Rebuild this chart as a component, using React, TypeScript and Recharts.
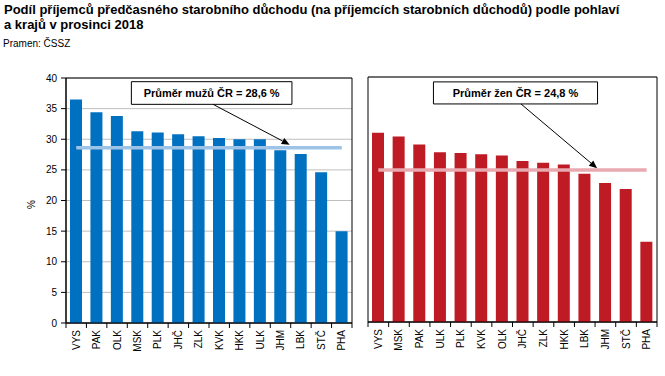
import React from 'react';
import {
  ComposedChart,
  Bar,
  Line,
  XAxis,
  YAxis,
  CartesianGrid,
  ReferenceArea,
  ReferenceLine,
} from 'recharts';

// ---- data ----
const menRegions = ['VYS', 'PAK', 'OLK', 'MSK', 'PLK', 'JHČ', 'ZLK', 'KVK', 'HKK', 'ULK', 'JHM', 'LBK', 'STČ', 'PHA'];
const menValues = [36.5, 34.4, 33.8, 31.3, 31.1, 30.8, 30.5, 30.2, 30.0, 30.0, 28.2, 27.6, 24.6, 15.0];
const menAverage = 28.6;

const womenRegions = ['VYS', 'MSK', 'PAK', 'ULK', 'PLK', 'KVK', 'OLK', 'JHČ', 'ZLK', 'HKK', 'LBK', 'JHM', 'STČ', 'PHA'];
const womenValues = [30.9, 30.3, 29.0, 27.7, 27.6, 27.4, 27.2, 26.3, 26.0, 25.7, 24.2, 22.7, 21.7, 13.1];
const womenAverage = 24.8;

const yTicks = [0, 5, 10, 15, 20, 25, 30, 35, 40];

// annotation boxes / arrows in data units (x = category index scale 0..14)
const menNoteBox = { x1: 3.2, x2: 11.06, y1: 35.7, y2: 39.4 };
const menNoteArrow = { x1: 7.2, y1: 35.7, x2: 10.95, y2: 29.1 };
const womenNoteBox = { x1: 3.17, x2: 11.12, y1: 35.6, y2: 39.2 };
const womenNoteArrow = { x1: 7.41, y1: 35.6, x2: 11.1, y2: 25.1 };

const menLabel = 'Průměr mužů ČR = 28,6 %';
const womenLabel = 'Průměr žen ČR = 24,8 %';

const title = 'Podíl příjemců předčasného starobního důchodu (na příjemcích starobních důchodů) podle pohlaví';
const title2 = 'a krajů v prosinci 2018';
const source = 'Pramen: ČSSZ';

const FONT = '"Liberation Sans", Arial, sans-serif';

const menData = menRegions.map((r, i) => ({ region: r, value: menValues[i], avg: menAverage, pos: i + 0.5 }));
const womenData = womenRegions.map((r, i) => ({ region: r, value: womenValues[i], avg: womenAverage, pos: i + 0.5 }));

const BoundaryTick = (props: any) => {
  const { x, y, payload, index, visibleTicksCount } = props;
  const half = payload && typeof payload.offset === 'number' ? payload.offset : 0;
  const isLast = index === visibleTicksCount - 1;
  return (
    <g>
      <line x1={x - half} y1={y} x2={x - half} y2={y + 5} stroke="#000" strokeWidth={1} />
      {isLast && <line x1={x + half} y1={y} x2={x + half} y2={y + 5} stroke="#000" strokeWidth={1} />}
      <text
        transform={`translate(${x},${y + 7}) rotate(-90)`}
        textAnchor="end"
        dy="0.35em"
        fontSize={10}
        fontFamily={FONT}
        fill="#000"
      >
        {payload.value}
      </text>
    </g>
  );
};

const arrowShape = (props: any) => {
  const { x1, y1, x2, y2 } = props;
  const dx = x2 - x1;
  const dy = y2 - y1;
  const len = Math.sqrt(dx * dx + dy * dy) || 1;
  const ux = dx / len;
  const uy = dy / len;
  const hl = 8;
  const hw = 3.5;
  const bx = x2 - ux * hl;
  const by = y2 - uy * hl;
  const pts = `${x2},${y2} ${bx - uy * hw},${by + ux * hw} ${bx + uy * hw},${by - ux * hw}`;
  return (
    <g>
      <line x1={x1} y1={y1} x2={bx} y2={by} stroke="#000" strokeWidth={1} />
      <polygon points={pts} fill="#000" />
    </g>
  );
};

const PercentLabel = (props: any) => {
  const vb = props.viewBox || {};
  const cx = (vb.x || 0) + 31;
  const cy = (vb.y || 0) + (vb.height || 0) / 2 + 4;
  return (
    <text
      transform={`translate(${cx},${cy}) rotate(-90)`}
      textAnchor="middle"
      dy="0.35em"
      fontSize={10}
      fontFamily={FONT}
      fill="#000"
    >
      %
    </text>
  );
};

type PanelProps = {
  data: any[];
  color: string;
  avgColor: string;
  box: { x1: number; x2: number; y1: number; y2: number };
  arrow: { x1: number; y1: number; x2: number; y2: number };
  label: string;
  showYAxis: boolean;
  width: number;
  margin: any;
  barSize: number;
};

const Panel = ({ data, color, avgColor, box, arrow, label, showYAxis, width, margin, barSize }: PanelProps) => (
  <ComposedChart width={width} height={376} data={data} margin={margin}>
    <CartesianGrid horizontal vertical={false} stroke="#BFBFBF" strokeWidth={1} />
    <XAxis
      dataKey="region"
      interval={0}
      tickLine={false}
      tickSize={0}
      tickMargin={0}
      height={46}
      axisLine={{ stroke: '#000' }}
      tick={<BoundaryTick />}
    />
    <XAxis
      xAxisId="num"
      type="number"
      dataKey="pos"
      domain={[0, 14]}
      ticks={[0, 14]}
      allowDataOverflow
      hide
    />
    {showYAxis ? (
      <YAxis
        domain={[0, 40]}
        ticks={yTicks}
        width={66}
        tickSize={5}
        tickMargin={4}
        axisLine={{ stroke: '#000' }}
        tickLine={{ stroke: '#000' }}
        tick={{ fill: '#000', fontSize: 10, fontFamily: FONT }}
        label={<PercentLabel />}
        interval={0}
      />
    ) : (
      <YAxis
        domain={[0, 40]}
        ticks={yTicks}
        width={0}
        tick={false}
        axisLine={false}
        tickLine={false}
        interval={0}
      />
    )}
    <Bar dataKey="value" fill={color} barSize={barSize} isAnimationActive={false} />
    <Line
      dataKey="avg"
      stroke={avgColor}
      strokeWidth={3.5}
      dot={false}
      activeDot={false}
      isAnimationActive={false}
    />
    <ReferenceArea
      xAxisId="num"
      x1={0}
      x2={14}
      y1={0}
      y2={40}
      stroke="#000"
      strokeWidth={1}
      fill="none"
      fillOpacity={0}
    />
    <ReferenceLine
      xAxisId="num"
      segment={[
        { x: arrow.x1, y: arrow.y1 },
        { x: arrow.x2, y: arrow.y2 },
      ]}
      shape={arrowShape}
    />
    <ReferenceArea
      xAxisId="num"
      x1={box.x1}
      x2={box.x2}
      y1={box.y1}
      y2={box.y2}
      stroke="#000"
      strokeWidth={1}
      fill="#fff"
      fillOpacity={1}
      label={{ value: label, position: 'center', fill: '#000', fontSize: 11, fontWeight: 'bold', fontFamily: FONT }}
    />
  </ComposedChart>
);

export default function App() {
  return (
    <div
      style={{
        position: 'absolute',
        left: 0,
        top: 0,
        width: 665,
        height: 376,
        background: '#fff',
        fontFamily: FONT,
        overflow: 'hidden',
      }}
    >
      <div
        style={{
          position: 'absolute',
          left: 4,
          top: 2,
          fontSize: 13,
          lineHeight: '15px',
          fontWeight: 'bold',
          color: '#000',
          whiteSpace: 'nowrap',
        }}
      >
        {title}
        <br />
        {title2}
      </div>
      <div
        style={{
          position: 'absolute',
          left: 3,
          top: 38,
          fontSize: 10,
          lineHeight: '12px',
          color: '#000',
          whiteSpace: 'nowrap',
        }}
      >
        {source}
      </div>
      <div style={{ position: 'absolute', left: 0, top: 0 }}>
        <Panel
          data={menData}
          color="#0070C0"
          avgColor="#9DC3E6"
          box={menNoteBox}
          arrow={menNoteArrow}
          label={menLabel}
          showYAxis
          width={360}
          margin={{ top: 78, right: 8, bottom: 7, left: 0 }}
          barSize={12}
        />
      </div>
      <div style={{ position: 'absolute', left: 360, top: 0 }}>
        <Panel
          data={womenData}
          color="#BE1B24"
          avgColor="#E8A9B0"
          box={womenNoteBox}
          arrow={womenNoteArrow}
          label={womenLabel}
          showYAxis={false}
          width={305}
          margin={{ top: 77, right: 8, bottom: 8, left: 8 }}
          barSize={12}
        />
      </div>
    </div>
  );
}
